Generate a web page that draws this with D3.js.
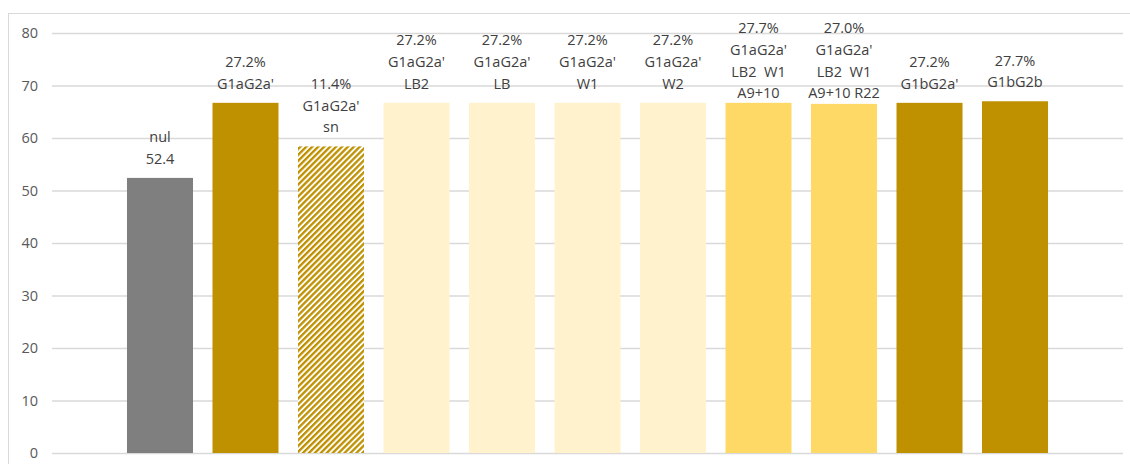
<!DOCTYPE html>
<html>
<head>
<meta charset="utf-8">
<script src="https://cdn.jsdelivr.net/npm/d3@7"></script>
<style>
  html, body { margin: 0; padding: 0; background: #fff; }
  svg { display: block; }
  text { font-family: "Open Sans", "Noto Sans", sans-serif; }
</style>
</head>
<body>
<svg id="chart" width="1130" height="464"></svg>
<script>
// ---- data ----
const categories = ["nul", "G1aG2a'", "G1aG2a' sn", "G1aG2a' LB2", "G1aG2a' LB", "G1aG2a' W1", "G1aG2a' W2",
  "G1aG2a' LB2 W1 A9+10", "G1aG2a' LB2 W1 A9+10 R22", "G1bG2a'", "G1bG2b"];
const values = [52.4, 66.7, 58.4, 66.7, 66.7, 66.7, 66.7, 66.7, 66.5, 66.7, 67.0];
const labels = [
  ["nul", "52.4"],
  ["27.2%", "G1aG2a'"],
  ["11.4%", "G1aG2a'", "sn"],
  ["27.2%", "G1aG2a'", "LB2"],
  ["27.2%", "G1aG2a'", "LB"],
  ["27.2%", "G1aG2a'", "W1"],
  ["27.2%", "G1aG2a'", "W2"],
  ["27.7%", "G1aG2a'", "LB2  W1", "A9+10"],
  ["27.0%", "G1aG2a'", "LB2  W1", "A9+10 R22"],
  ["27.2%", "G1bG2a'"],
  ["27.7%", "G1bG2b"]
];
const fillKinds = ["gray", "dark", "hatch", "light", "light", "light", "light", "mid", "mid", "dark", "dark"];
const yTicks = [0, 10, 20, 30, 40, 50, 60, 70, 80];

// ---- styles ----
const colors = { gray: "#7f7f7f", dark: "#bf9000", light: "#fff2cc", mid: "#ffd966", hatch: "url(#hatch)" };

const svg = d3.select("#chart");
const defs = svg.append("defs");
const pat = defs.append("pattern")
  .attr("id", "hatch").attr("patternUnits", "userSpaceOnUse")
  .attr("width", 4.2).attr("height", 4.2)
  .attr("patternTransform", "rotate(45)");
pat.append("rect").attr("width", 4.2).attr("height", 4.2).attr("fill", "#ffffff");
pat.append("rect").attr("width", 2.3).attr("height", 4.2).attr("fill", "#bf9000");

// chart border (cropped on right/bottom)
svg.append("rect").attr("x", 8.5).attr("y", 13.5).attr("width", 1140).attr("height", 470)
  .attr("fill", "none").attr("stroke", "#d9d9d9").attr("stroke-width", 1);

const left = 52, right = 1123;
const y = d3.scaleLinear().domain([0, 80]).range([453, 33]);
const x = d3.scaleBand().domain(categories).range([left, right])
  .paddingInner(0.228).paddingOuter(0.877);

// gridlines
const yAxis = d3.axisLeft(y).tickValues(yTicks).tickSize(-(right - left)).tickPadding(14);
const ga = svg.append("g").attr("transform", `translate(${left},0)`).call(yAxis);
ga.select(".domain").remove();
ga.selectAll(".tick line").attr("stroke", "#d9d9d9").attr("stroke-width", 1.3);
ga.selectAll(".tick text").attr("fill", "#595959").attr("font-size", 14.5)
  .style("font-family", "'Open Sans', sans-serif");

// bars
svg.append("g").selectAll("rect").data(categories).join("rect")
  .attr("x", d => x(d))
  .attr("y", (d, i) => y(values[i]))
  .attr("width", x.bandwidth())
  .attr("height", (d, i) => y(0) - y(values[i]))
  .attr("fill", (d, i) => colors[fillKinds[i]]);

// labels
const lh = 21.8;
const lg = svg.append("g");
categories.forEach((c, i) => {
  const ls = labels[i];
  let firstY = y(values[i]) - 19 - (ls.length - 1) * lh;
  firstY = Math.max(firstY, 28);
  const t = lg.append("text")
    .attr("x", x(c) + x.bandwidth() / 2)
    .attr("text-anchor", "middle")
    .attr("fill", "#404040")
    .attr("font-size", 14.5)
    .style("white-space", "pre");
  ls.forEach((s, k) => {
    t.append("tspan").attr("x", x(c) + x.bandwidth() / 2)
      .attr("y", firstY + k * lh).attr("dy", "0.35em").text(s);
  });
});
</script>
</body>
</html>
